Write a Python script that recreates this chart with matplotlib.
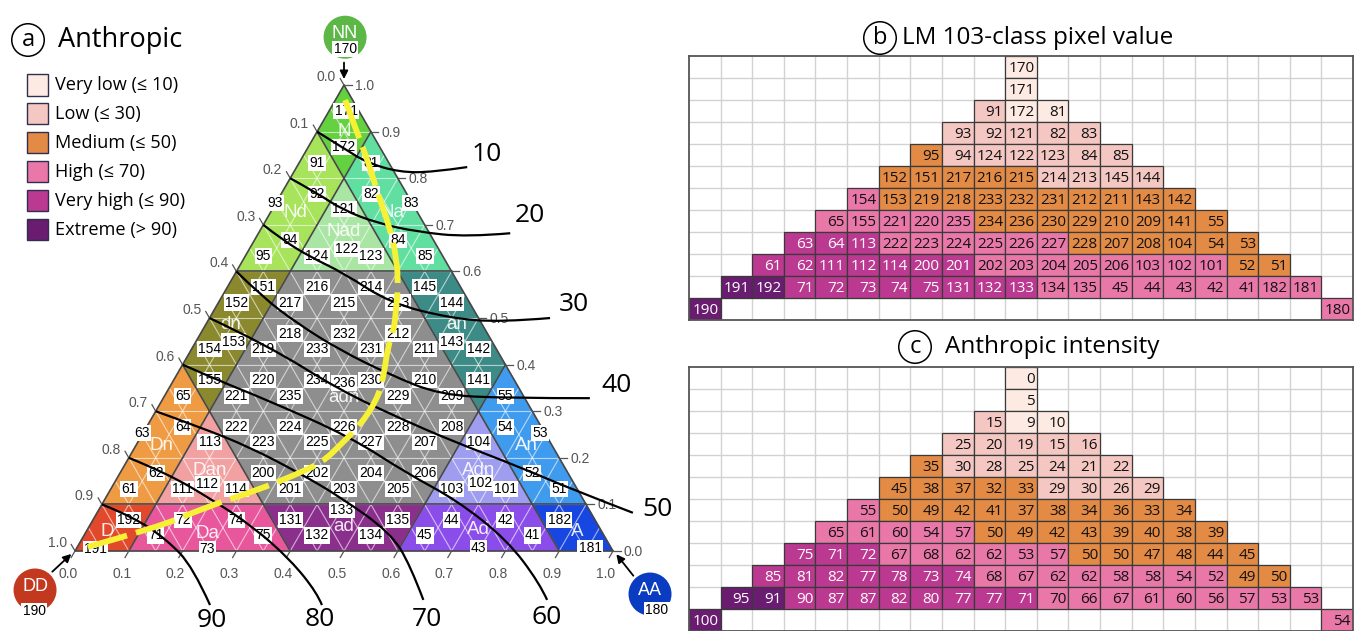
import numpy as np
import matplotlib.pyplot as plt
from matplotlib.patches import Polygon, Rectangle, Circle, PathPatch
from matplotlib.path import Path

plt.rcParams['font.family'] = ['Open Sans', 'DejaVu Sans']

# ---------------- data ----------------
# LM 103-class pixel values, one list per triangle row (top -> bottom, left -> right)
class_rows = [
    [171],
    [91, 172, 81],
    [93, 92, 121, 82, 83],
    [95, 94, 124, 122, 123, 84, 85],
    [152, 151, 217, 216, 215, 214, 213, 145, 144],
    [154, 153, 219, 218, 233, 232, 231, 212, 211, 143, 142],
    [65, 155, 221, 220, 235, 234, 236, 230, 229, 210, 209, 141, 55],
    [63, 64, 113, 222, 223, 224, 225, 226, 227, 228, 207, 208, 104, 54, 53],
    [61, 62, 111, 112, 114, 200, 201, 202, 203, 204, 205, 206, 103, 102, 101, 52, 51],
    [191, 192, 71, 72, 73, 74, 75, 131, 132, 133, 134, 135, 45, 44, 43, 42, 41, 182, 181],
]
# anthropic intensity of the same cells
intensity_rows = [
    [5],
    [15, 9, 10],
    [25, 20, 19, 15, 16],
    [35, 30, 28, 25, 24, 21, 22],
    [45, 38, 37, 32, 33, 29, 30, 26, 29],
    [55, 50, 49, 42, 41, 37, 38, 34, 36, 33, 34],
    [65, 61, 60, 54, 57, 50, 49, 42, 43, 39, 40, 38, 39],
    [75, 71, 72, 67, 68, 62, 62, 53, 57, 50, 50, 47, 48, 44, 45],
    [85, 81, 82, 77, 78, 73, 74, 68, 67, 62, 62, 58, 58, 54, 52, 49, 50],
    [95, 91, 90, 87, 87, 82, 80, 77, 77, 71, 70, 66, 67, 61, 60, 56, 57, 53, 53],
]
# region of each cell
region_rows = [
    ['N'],
    ['Nd', 'N', 'Na'],
    ['Nd', 'Nd', 'Nad', 'Na', 'Na'],
    ['Nd', 'Nd', 'Nad', 'Nad', 'Nad', 'Na', 'Na'],
    ['dn', 'dn'] + ['adn'] * 5 + ['an', 'an'],
    ['dn', 'dn'] + ['adn'] * 7 + ['an', 'an'],
    ['Dn', 'dn'] + ['adn'] * 9 + ['an', 'An'],
    ['Dn', 'Dn', 'Dan'] + ['adn'] * 9 + ['Adn', 'An', 'An'],
    ['Dn', 'Dn', 'Dan', 'Dan', 'Dan'] + ['adn'] * 7 + ['Adn', 'Adn', 'Adn', 'An', 'An'],
    ['D', 'D'] + ['Da'] * 5 + ['ad'] * 5 + ['Ad'] * 5 + ['A', 'A'],
]
corner_names = ['NN', 'DD', 'AA']
corner_classes = [170, 190, 180]
corner_intensity = [0, 100, 54]

cat_labels = ['Very low (≤ 10)', 'Low (≤ 30)', 'Medium (≤ 50)',
              'High (≤ 70)', 'Very high (≤ 90)', 'Extreme (> 90)']
cat_limits = [10, 30, 50, 70, 90]
cat_colors = ['#FCEAE3', '#F4C7C2', '#E38B45', '#E978A9', '#BB3990', '#6A1C70']

region_colors = {
    'N': '#63D140', 'Nd': '#A7E35B', 'Nad': '#AAE6A3', 'Na': '#60DFA1',
    'dn': '#8B892D', 'an': '#3D8B86', 'adn': '#8E8E8E',
    'Dn': '#EE9B43', 'Dan': '#F2A1A2', 'Adn': '#9E9DF0', 'An': '#3F9BEE',
    'D': '#E2482B', 'Da': '#E8569C', 'ad': '#8A308C', 'Ad': '#8B4DEA', 'A': '#1746E0',
}
corner_colors = ['#5DB747', '#C2391F', '#0A3CC2']

# intensity contours, (A, N) fractions
contour_levels = [10, 20, 30, 40, 50, 60, 70, 80, 90]
contour_paths = [
    [(0.0, 0.90), (0.066, 0.865), (0.127, 0.833), (0.197, 0.813), (0.258, 0.813), (0.317, 0.824)],
    [(0.0, 0.80), (0.066, 0.768), (0.132, 0.732), (0.209, 0.704), (0.294, 0.685), (0.392, 0.674), (0.468, 0.682)],
    [(0.0, 0.70), (0.053, 0.667), (0.122, 0.631), (0.200, 0.597), (0.320, 0.532), (0.447, 0.500), (0.544, 0.491), (0.633, 0.500)],
    [(0.0, 0.60), (0.076, 0.545), (0.168, 0.489), (0.277, 0.431), (0.397, 0.378), (0.511, 0.335), (0.639, 0.328), (0.793, 0.328)],
    [(0.0, 0.50), (0.136, 0.442), (0.320, 0.345), (0.461, 0.285), (0.578, 0.238), (0.737, 0.180), (0.861, 0.131), (0.996, 0.082)],
    [(0.0, 0.40), (0.081, 0.367), (0.195, 0.324), (0.389, 0.245), (0.533, 0.167), (0.655, 0.109), (0.791, 0.024), (0.898, -0.069), (0.930, -0.105)],
    [(0.0, 0.30), (0.099, 0.266), (0.213, 0.223), (0.334, 0.167), (0.435, 0.116), (0.567, 0.039), (0.638, -0.030), (0.700, -0.105)],
    [(0.0, 0.20), (0.087, 0.167), (0.202, 0.109), (0.305, 0.052), (0.410, -0.019), (0.495, -0.090), (0.517, -0.116)],
    [(0.0, 0.10), (0.072, 0.073), (0.159, 0.024), (0.236, -0.034), (0.309, -0.116)],
]
contour_label_pos = [(0.341, 0.850), (0.485, 0.721), (0.663, 0.530), (0.829, 0.356), (1.037, 0.090),
                     (0.948, -0.142), (0.728, -0.148), (0.529, -0.148), (0.330, -0.150)]

# yellow dashed trajectory, (A, N)
yellow_path = [(0.018, 0.968), (0.101, 0.867), (0.136, 0.824), (0.190, 0.753), (0.229, 0.706),
               (0.287, 0.624), (0.320, 0.560), (0.335, 0.524), (0.356, 0.474), (0.361, 0.442),
               (0.387, 0.373), (0.399, 0.324), (0.395, 0.270), (0.379, 0.227), (0.365, 0.191),
               (0.327, 0.163), (0.274, 0.131), (0.192, 0.092), (0.132, 0.052), (0.012, 0.006)]


def category(v):
    for i, lim in enumerate(cat_limits):
        if v <= lim:
            return i
    return len(cat_limits)


# ---------------- figure ----------------
W, H = 1358, 631
S = 538.0  # pixels per ternary unit
fig = plt.figure(figsize=(W / 100, H / 100), dpi=100)

h = np.sqrt(3) / 2


def tern(a, n):
    return a + n / 2.0, n * h


def lattice(k, i):
    return tern(i / 10.0, 1 - k / 10.0)


def cell_vertices(k, j):
    m = j // 2
    if j % 2 == 0:
        return [(k - 1, m), (k, m), (k, m + 1)]
    return [(k - 1, m), (k - 1, m + 1), (k, m + 1)]


def smooth(points):
    pts = np.array(points, float)
    verts, codes = [pts[0]], [Path.MOVETO]
    for i in range(1, len(pts) - 1):
        end = pts[i + 1] if i == len(pts) - 2 else (pts[i] + pts[i + 1]) / 2
        verts += [pts[i], end]
        codes += [Path.CURVE3, Path.CURVE3]
    return Path(verts, codes)


ax = fig.add_axes([0, 0, 680 / W, 1])
ax.set_xlim(-75 / S, 605 / S)
ax.set_ylim(-80 / S, 551 / S)
ax.axis('off')

arial = ['Liberation Sans', 'DejaVu Sans']

cells = []
for k, (crow, irow, rrow) in enumerate(zip(class_rows, intensity_rows, region_rows), start=1):
    for j, (c, v, r) in enumerate(zip(crow, irow, rrow)):
        cells.append((k, j, c, v, r))

edges = {}
centroids = {}
for k, j, c, v, r in cells:
    vs = cell_vertices(k, j)
    pts = [lattice(*p) for p in vs]
    ax.add_patch(Polygon(pts, closed=True, fc=region_colors[r], ec=region_colors[r], lw=0.4, zorder=1))
    centroids[c] = np.mean(pts, axis=0)
    for e in [(vs[0], vs[1]), (vs[1], vs[2]), (vs[0], vs[2])]:
        edges.setdefault(frozenset(e), []).append(r)

# fine white grid
for n in np.arange(1, 10) / 10:
    x0, y0 = tern(0, n)
    x1, y1 = tern(1 - n, n)
    ax.plot([x0, x1], [y0, y1], color='white', lw=0.8, alpha=0.6, zorder=2)
for f in np.arange(1, 20) / 20:
    x0, y0 = tern(f, 0)
    x1, y1 = tern(f, 1 - f)
    ax.plot([x0, x1], [y0, y1], color='white', lw=0.8, alpha=0.6, zorder=2)
    x0, y0 = tern(0, 1 - f)
    x1, y1 = tern(1 - f, 0)
    ax.plot([x0, x1], [y0, y1], color='white', lw=0.8, alpha=0.6, zorder=2)

# region boundaries
for e, regs in edges.items():
    if len(regs) == 1 or regs[0] != regs[1]:
        p, q = tuple(e)
        (x0, y0), (x1, y1) = lattice(*p), lattice(*q)
        ax.plot([x0, x1], [y0, y1], color='#474747', lw=1.2, zorder=3, solid_capstyle='round')

# region names at region centres
name_nudge = {'Nad': (0, 9), 'D': (-8, -4), 'A': (5, -4), 'Da': (-2, -4), 'adn': (0, -2),
              'Dan': (0, 3), 'Adn': (0, 3), 'dn': (0, 6), 'an': (0, 6)}
for reg in region_colors:
    pts = np.array([centroids[c] for k, j, c, v, r in cells if r == reg])
    cx, cy = pts.mean(axis=0)
    dx, dy = name_nudge.get(reg, (0, 0))
    ax.text(cx + dx / S, cy + dy / S, reg, color='white', alpha=0.9, fontsize=13.5,
            family=arial, ha='center', va='center', zorder=4)

# class labels
label_nudge = {171: (2, 5), 93: (-15, 6), 83: (13, 6), 122: (3, -9), 153: (-3, -8),
               143: (0, -8), 236: (0, 13), 63: (-14, 9), 53: (8, 9), 112: (-2, -11),
               102: (2, -10), 191: (-6, -14), 73: (-2, -14), 133: (-2, 10), 43: (0, -13),
               181: (4, -13)}
for k, j, c, v, r in cells:
    cx, cy = centroids[c]
    dx, dy = label_nudge.get(c, (0, 0))
    ax.text(cx + dx / S, cy + dy / S, str(c), fontsize=10, family=arial, ha='center', va='center',
            color='black', zorder=5,
            bbox=dict(boxstyle='square,pad=0.08', fc='white', ec='none'))

# axis ticks and labels
tl = 0.014
for i in range(11):
    t = i / 10
    # left axis (D)
    x, y = tern(0, 1 - t)
    ax.plot([x, x - tl * 0.5], [y, y + tl * h], color='#555555', lw=0.9, zorder=3, clip_on=False)
    ax.text(x - 8 / S, y + 8 / S, f'{t:.1f}', fontsize=10, family=arial, color='#555555',
            ha='right', va='center')
    # right axis (N)
    x, y = tern(1 - t, t)
    ax.plot([x, x + tl], [y, y], color='#555555', lw=0.9, zorder=3, clip_on=False)
    ax.text(x + 11 / S, y - 1 / S, f'{t:.1f}', fontsize=10, family=arial, color='#555555',
            ha='left', va='center')
    # bottom axis (A)
    x, y = tern(t, 0)
    ax.plot([x, x - tl * 0.5], [y, y - tl * h], color='#555555', lw=0.9, zorder=3, clip_on=False)
    ax.text(x - 7 / S, y - 23 / S, f'{t:.1f}', fontsize=10, family=arial, color='#555555',
            ha='center', va='center')

# intensity contours
for lev, path, lab in zip(contour_levels, contour_paths, contour_label_pos):
    xy = [tern(a, n) for a, n in path]
    ax.add_patch(PathPatch(smooth(xy), fill=False, ec='black', lw=1.6, zorder=6, clip_on=False))
    lx, ly = tern(*lab)
    ax.text(lx, ly, str(lev), fontsize=19, ha='center', va='center', color='black', zorder=7,
            clip_on=False)

# yellow trajectory
xy = [tern(a, n) for a, n in yellow_path]
ax.add_patch(PathPatch(smooth(xy), fill=False, ec='#F7F136', lw=4.2, ls=(0, (7, 1.6)),
                       capstyle='butt', zorder=7))

# corner circles
corner_xy = [(0.502, 0.955), (-0.0743, -0.0725), (1.0688, -0.080)]
corner_num_off = [(0, -12), (-1, -21), (7, -16)]
corner_arrow = [((0.5, 0.913), (0.5, 0.872)), ((-0.046, -0.042), (-0.003, -0.002)),
                ((1.041, -0.050), (1.003, -0.002))]
for name, cls, col, (cx, cy), (ox, oy), (a0, a1) in zip(corner_names, corner_classes, corner_colors,
                                                         corner_xy, corner_num_off, corner_arrow):
    ax.add_patch(Circle((cx, cy), 21.5 / S, fc=col, ec='none', zorder=4, clip_on=False))
    ax.text(cx, cy + 4 / S, name, color='white', fontsize=13, family=arial, ha='center',
            va='center', zorder=5)
    ax.text(cx + ox / S, cy + oy / S, str(cls), fontsize=10, family=arial, ha='center', va='center',
            zorder=6, bbox=dict(boxstyle='square,pad=0.08', fc='white', ec='none'))
    ax.annotate('', xy=a1, xytext=a0,
                arrowprops=dict(arrowstyle='-|>', color='black', lw=1.3, mutation_scale=12),
                zorder=6, annotation_clip=False)

# title (a) and legend
fig.text(28 / W, 1 - 40 / H, 'a', fontsize=17, ha='center', va='center',
         bbox=dict(boxstyle='circle,pad=0.18', fc='white', ec='black', lw=1.1))
fig.text(58 / W, 1 - 40 / H, 'Anthropic', fontsize=19.5, ha='left', va='center')
for i, (lab, col) in enumerate(zip(cat_labels, cat_colors)):
    yc = 85 + i * 28.9
    fig.add_artist(Rectangle((27 / W, 1 - (yc + 10.5) / H), 21 / W, 21 / H, fc=col,
                             ec='#2E2E4E', lw=1.0, transform=fig.transFigure))
    fig.text(55 / W, 1 - yc / H, lab, fontsize=13.1, ha='left', va='center')


# ---------------- grids b and c ----------------
def draw_grid(rect, top_val, rows, corners):
    g = fig.add_axes(rect)
    g.set_xlim(0, 21)
    g.set_ylim(12, 0)
    g.set_xticks([])
    g.set_yticks([])
    for s in g.spines.values():
        s.set_color('#555555')
        s.set_linewidth(1.3)
    for x in range(1, 21):
        g.axvline(x, color='#D2D2D2', lw=1.0, zorder=0)
    for y in range(1, 12):
        g.axhline(y, color='#D2D2D2', lw=1.0, zorder=0)
    entries = [(0, 10, top_val[0], top_val[1])]
    for k, (vals, ints) in enumerate(rows, start=1):
        for j, (val, iv) in enumerate(zip(vals, ints)):
            entries.append((k, 10 - (k - 1) + j, val, iv))
    entries.append((11, 0, corners[0][0], corners[0][1]))
    entries.append((11, 20, corners[1][0], corners[1][1]))
    for r, c, val, iv in entries:
        cat = category(iv)
        g.add_patch(Rectangle((c, r), 1, 1, fc=cat_colors[cat], ec='#3A3A3A', lw=0.9, zorder=1))
        g.text(c + 0.93, r + 0.55, str(val), fontsize=11, ha='right', va='center',
               color='white' if cat >= 4 else '#111111', zorder=2)
    return g


draw_grid([689 / W, 1 - 320 / H, 664 / W, 264 / H],
          (corner_classes[0], corner_intensity[0]),
          zip(class_rows, intensity_rows),
          [(corner_classes[1], corner_intensity[1]), (corner_classes[2], corner_intensity[2])])
draw_grid([689 / W, 1 - 631 / H, 664 / W, 264 / H],
          (corner_intensity[0], corner_intensity[0]),
          zip(intensity_rows, intensity_rows),
          [(corner_intensity[1], corner_intensity[1]), (corner_intensity[2], corner_intensity[2])])

fig.text(880 / W, 1 - 38 / H, 'b', fontsize=17, ha='center', va='center',
         bbox=dict(boxstyle='circle,pad=0.18', fc='white', ec='black', lw=1.1))
fig.text(902 / W, 1 - 38 / H, 'LM 103-class pixel value', fontsize=17.5, ha='left', va='center')
fig.text(915 / W, 1 - 347 / H, 'c', fontsize=17, ha='center', va='center',
         bbox=dict(boxstyle='circle,pad=0.18', fc='white', ec='black', lw=1.1))
fig.text(945 / W, 1 - 347 / H, 'Anthropic intensity', fontsize=17.5, ha='left', va='center')

fig.savefig('out.png', dpi=100)
